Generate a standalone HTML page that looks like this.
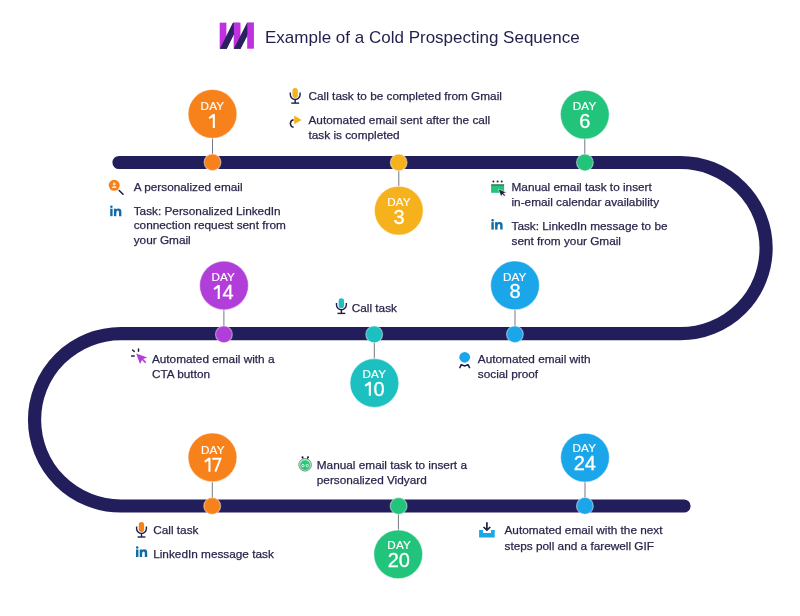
<!DOCTYPE html>
<html><head><meta charset="utf-8">
<style>
html,body{margin:0;padding:0;background:#fff;width:800px;height:616px;overflow:hidden}
svg{display:block;will-change:transform}
text{font-family:"Liberation Sans",sans-serif}
.t{font-size:11.8px;fill:#28264b;stroke:#28264b;stroke-width:0.25}
.dl{font-size:11.7px;letter-spacing:0.15px;fill:#fff;stroke:#fff;stroke-width:0.15;text-anchor:middle}
.dn{font-size:20px;fill:#fff;stroke:#fff;stroke-width:0.3;text-anchor:middle}
.ring{stroke-width:1.2;stroke-opacity:.45}
</style></head>
<body>
<svg width="800" height="616" viewBox="0 0 800 616">
<!-- logo -->
<g id="logo">
  <rect x="219.7" y="22.7" width="6.7" height="26" fill="#c030e0"/>
  <polygon points="220,48.7 226.7,48.7 239.5,22.7 232.8,22.7" fill="#2a2260"/>
  <rect x="233.7" y="22.7" width="6.8" height="26" fill="#c030e0"/>
  <polygon points="220,48.7 226.7,48.7 233.7,34.4 233.7,25.4" fill="#2a2260"/>
  <polygon points="233.9,48.7 240.5,48.7 253.9,22.7 247,22.7" fill="#2a2260"/>
  <rect x="247.2" y="22.7" width="6.7" height="26" fill="#c030e0"/>
  <polygon points="233.9,48.7 240.5,48.7 247.2,35.7 247.2,27.2" fill="#2a2260"/>
</g>
<text x="265" y="42.8" style="font-size:17px;fill:#211f4c">Example of a Cold Prospecting Sequence</text>

<!-- track -->
<path d="M119 162.5 L680.5 162.5 A85.6 85.6 0 0 1 680.5 333.7 L120.7 333.7 A86.15 86.15 0 0 0 120.7 506 L684 506" fill="none" stroke="#221e5b" stroke-width="13.2" stroke-linecap="round"/>

<!-- connectors -->
<g stroke="#777783" stroke-width="1">
  <line x1="212.5" y1="138.3" x2="212.5" y2="162.3"/>
  <line x1="398.8" y1="162.5" x2="398.8" y2="186.2"/>
  <line x1="584.8" y1="139.0" x2="584.8" y2="162.5"/>
  <line x1="515.0" y1="309.8" x2="515.0" y2="334.3"/>
  <line x1="374.3" y1="334.4" x2="374.3" y2="358.6"/>
  <line x1="223.9" y1="309.9" x2="223.9" y2="334.4"/>
  <line x1="212.3" y1="481.8" x2="212.3" y2="506.0"/>
  <line x1="398.4" y1="506.0" x2="398.4" y2="529.9"/>
  <line x1="585.0" y1="482.0" x2="585.0" y2="505.9"/>
</g>
<g class="ring" stroke="#fff">
  <circle cx="212.5" cy="113.9" r="24.4" fill="#f7821c"/>
  <circle cx="212.5" cy="162.3" r="8.4" fill="#f7821c"/>
  <circle cx="398.8" cy="210.6" r="24.4" fill="#f5b21c"/>
  <circle cx="398.7" cy="162.5" r="8.4" fill="#f5b21c"/>
  <circle cx="584.8" cy="114.6" r="24.4" fill="#21c47a"/>
  <circle cx="584.9" cy="162.5" r="8.4" fill="#21c47a"/>
  <circle cx="515.0" cy="285.4" r="24.4" fill="#1ca6ea"/>
  <circle cx="514.9" cy="334.3" r="8.4" fill="#1ca6ea"/>
  <circle cx="374.4" cy="383.0" r="24.4" fill="#1cc0c0"/>
  <circle cx="374.2" cy="334.4" r="8.4" fill="#1cc0c0"/>
  <circle cx="224.0" cy="285.5" r="24.4" fill="#b13ed9"/>
  <circle cx="223.9" cy="334.4" r="8.4" fill="#b13ed9"/>
  <circle cx="212.5" cy="457.4" r="24.4" fill="#f7821c"/>
  <circle cx="212.2" cy="506.0" r="8.4" fill="#f7821c"/>
  <circle cx="398.2" cy="554.3" r="24.4" fill="#21c47a"/>
  <circle cx="398.6" cy="506.0" r="8.4" fill="#21c47a"/>
  <circle cx="585.0" cy="457.6" r="24.4" fill="#1ca6ea"/>
  <circle cx="584.9" cy="505.9" r="8.4" fill="#1ca6ea"/>
</g>
<g>
  <text class="dl" x="212.4" y="109.9">DAY</text>
  <path fill="#fff" transform="translate(208.6,114.1)" d="M6.3 0 V14 H4.2 V3.1 L0.9 5.0 L0 3.3 L4.4 0 Z"/>
  <text class="dl" x="398.95" y="206.3">DAY</text>
  <text class="dn" x="399.00" y="223.8">3</text>
  <text class="dl" x="584.55" y="109.9">DAY</text>
  <text class="dn" x="584.75" y="127.7">6</text>
  <text class="dl" x="514.75" y="280.7">DAY</text>
  <text class="dn" x="514.95" y="298.1">8</text>
  <text class="dl" x="374.35" y="378.3">DAY</text>
  <path fill="#fff" transform="translate(364.6,381.7)" d="M6.3 0 V14 H4.2 V3.1 L0.9 5.0 L0 3.3 L4.4 0 Z"/>
  <text class="dn" x="384.6" y="395.7" style="text-anchor:end">0</text>
  <text class="dl" x="223.25" y="281.4">DAY</text>
  <path fill="#fff" transform="translate(213.5,284.9)" d="M6.3 0 V14 H4.2 V3.1 L0.9 5.0 L0 3.3 L4.4 0 Z"/>
  <text class="dn" x="233.6" y="298.9" style="text-anchor:end">4</text>
  <text class="dl" x="212.8" y="453.9">DAY</text>
  <path fill="#fff" transform="translate(204.2,457.7)" d="M6.3 0 V14 H4.2 V3.1 L0.9 5.0 L0 3.3 L4.4 0 Z"/>
  <path fill="none" stroke="#fff" stroke-width="2" transform="translate(212.3,457.7)" d="M0 1.05 H8.1 L3.0 14"/>
  <text class="dl" x="399.15" y="549.3">DAY</text>
  <text class="dn" x="398.75" y="567.1">20</text>
  <text class="dl" x="584.35" y="452.1">DAY</text>
  <text class="dn" x="584.75" y="470.0">24</text>
</g>

<!-- icons -->
<defs>
  <g id="micbase" fill="none" stroke="#1f1d45" stroke-width="1.4">
    <path d="M0.8 4.6 V6.6 A4.9 4.9 0 0 0 10.6 6.6 V4.6"/>
    <line x1="5.7" y1="11.5" x2="5.7" y2="15"/>
    <line x1="1.8" y1="15.1" x2="9.6" y2="15.1"/>
  </g>
  <g id="lin" fill="#0f6aa6">
    <circle cx="1.2" cy="1.3" r="1.25"/>
    <rect x="0" y="3.2" width="2.4" height="7.5"/>
    <rect x="3.7" y="3.2" width="2.4" height="7.5"/>
    <path d="M4.9 6.2 Q5.3 3 8.2 3 Q11.2 3 11.2 6.4 V10.7 H8.8 V6.8 Q8.8 5.1 7.6 5.1 Q6.1 5.1 6.1 7 Z"/>
  </g>
</defs>
<!-- mic yellow -->
<g transform="translate(289.5,88)"><rect x="2.95" y="0" width="5.4" height="10" rx="2.7" fill="#f5b21c"/><use href="#micbase"/></g>
<!-- automation icon -->
<polygon points="294.2,115.6 301.6,119.9 294.2,124.2" fill="#f5b21c"/>
<path d="M293.6 119.8 A3.8 3.8 0 0 0 293.6 127.3" fill="none" stroke="#1f1d45" stroke-width="1.5"/>
<!-- person search -->
<circle cx="114.2" cy="185.3" r="5.5" fill="#f7821c"/>
<circle cx="114.2" cy="184" r="1.4" fill="#fde3c8"/>
<path d="M111.8 188 Q111.8 186 114.2 186 Q116.6 186 116.6 188 Z" fill="#fde3c8"/>
<line x1="119.2" y1="190.5" x2="123" y2="194.2" stroke="#1f1d45" stroke-width="1.6" stroke-linecap="round"/>
<!-- linkedin 1 -->
<use href="#lin" transform="translate(110.2,205.5)"/>
<!-- calendar -->
<rect x="491.1" y="184.6" width="13" height="8.2" fill="#21c47a"/>
<line x1="491.1" y1="184.9" x2="504.1" y2="184.9" stroke="#1f3b3a" stroke-width="0.8"/>
<g fill="#1f1d45"><circle cx="493.4" cy="181.5" r="1"/><circle cx="497.6" cy="181.5" r="1"/><circle cx="501.7" cy="181.5" r="1"/></g>
<path d="M498.3 189.1 L506.6 192.4 L503.6 193.3 L505.4 195.3 L504.3 196.2 L502.5 194.2 L501.1 196.6 Z" fill="#1f1d45" stroke="#fff" stroke-width="0.5"/>
<!-- linkedin 2 -->
<use href="#lin" transform="translate(491.4,218.9)"/>
<!-- mic teal -->
<g transform="translate(335.7,298.3)"><rect x="2.95" y="0" width="5.4" height="10" rx="2.7" fill="#1cc0c0"/><use href="#micbase"/></g>
<!-- cursor purple -->
<g stroke="#1f1d45" stroke-width="1.5" stroke-linecap="round">
  <line x1="132.6" y1="350" x2="134.3" y2="351.5"/>
  <line x1="138.5" y1="349" x2="138.5" y2="351.3"/>
  <line x1="131.6" y1="355.9" x2="134.1" y2="355.9"/>
</g>
<path d="M136.2 353.4 L147.2 357.4 L143.2 358.9 L146.3 362.1 L145.1 363.3 L142 360.1 L140 363.9 Z" fill="#b23ed9"/>
<!-- badge -->
<path d="M459.6 368.2 L461.2 364.6 L464.6 366 L468 364.6 L469.8 368.2" fill="none" stroke="#1f1d45" stroke-width="1.5" stroke-linejoin="round"/>
<circle cx="464.7" cy="357.3" r="5.4" fill="#1ca6ea"/>
<!-- vidyard -->
<g stroke="#1f1d45" stroke-width="0.9"><line x1="302.6" y1="457.5" x2="303.4" y2="459.6"/><line x1="307.9" y1="457.5" x2="307.1" y2="459.6"/></g>
<circle cx="305.1" cy="464.8" r="6.3" fill="#b9f0d2" stroke="#4b6a5c" stroke-width="0.7"/>
<circle cx="305.1" cy="465.2" r="4.9" fill="#2fc67b"/>
<g fill="#1f1d45"><circle cx="302.5" cy="457.3" r="1.05"/><circle cx="308" cy="457.3" r="1.05"/></g>
<g fill="none" stroke="#e6fbef" stroke-width="0.9"><circle cx="302.9" cy="465.6" r="1.2"/><circle cx="307.3" cy="465.6" r="1.2"/></g>
<!-- mic orange -->
<g transform="translate(135.8,521.9)"><rect x="2.95" y="0" width="5.4" height="10" rx="2.7" fill="#f7821c"/><use href="#micbase"/></g>
<!-- linkedin 3 -->
<use href="#lin" transform="translate(136,546.3)"/>
<!-- download -->
<path d="M479.1 529.9 H483.1 V533 H491.1 V529.9 H494.7 V537.5 H479.1 Z" fill="#1ca6ea"/>
<g fill="none" stroke="#1f1d45" stroke-width="1.7">
  <line x1="486.9" y1="522.3" x2="486.9" y2="529.8"/>
  <path d="M483.5 527 L486.9 530.2 L490.3 527"/>
</g>

<!-- texts -->
<g class="t">
  <text x="308.5" y="100.4">Call task to be completed from Gmail</text>
  <text x="308.5" y="123.8">Automated email sent after the call</text>
  <text x="308.5" y="138.6">task is completed</text>

  <text x="133.7" y="190.5">A personalized email</text>
  <text x="133.7" y="215">Task: Personalized LinkedIn</text>
  <text x="133.7" y="229.3">connection request sent from</text>
  <text x="133.7" y="243.8">your Gmail</text>

  <text x="511.5" y="191.1">Manual email task to insert</text>
  <text x="511.5" y="206.3">in-email calendar availability</text>
  <text x="511.5" y="229.7">Task: LinkedIn message to be</text>
  <text x="511.5" y="245.2">sent from your Gmail</text>

  <text x="351.7" y="311.9">Call task</text>

  <text x="151.9" y="363.2">Automated email with a</text>
  <text x="151.9" y="377.5">CTA button</text>

  <text x="477.8" y="362.8">Automated email with</text>
  <text x="477.8" y="377.9">social proof</text>

  <text x="316.8" y="468.9">Manual email task to insert a</text>
  <text x="316.8" y="484">personalized Vidyard</text>

  <text x="153.2" y="534">Call task</text>
  <text x="153.2" y="558">LinkedIn message task</text>

  <text x="504.5" y="534.4">Automated email with the next</text>
  <text x="504.5" y="549.7">steps poll and a farewell GIF</text>
</g>
</svg>
</body></html>
